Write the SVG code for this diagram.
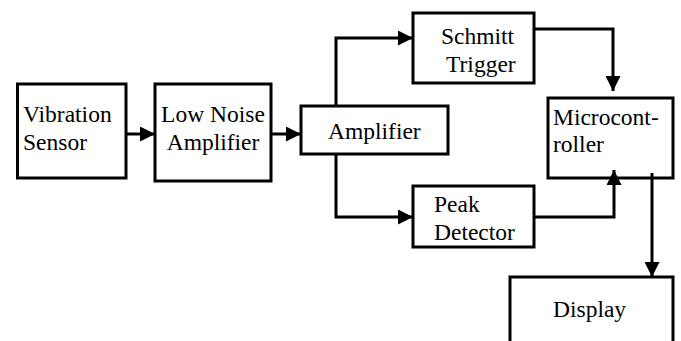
<svg xmlns="http://www.w3.org/2000/svg" width="681" height="341" viewBox="0 0 681 341">
<style>
.box{fill:#fff;stroke:#000;stroke-width:3}
.t{font-family:"Liberation Serif","Times New Roman",Tinos,"Nimbus Roman","DejaVu Serif",serif;font-size:23.5px;fill:#000}
.c{fill:none;stroke:#000;stroke-width:3}
</style>
<defs>
<marker id="ah" viewBox="0 0 15 15" refX="15" refY="7.5" markerWidth="15" markerHeight="15" markerUnits="userSpaceOnUse" orient="auto">
<path d="M0,0 L15,7.5 L0,15 z" fill="#000"/>
</marker>
</defs>
<rect x="0" y="0" width="681" height="341" fill="#fff"/>
<g id="vibration-sensor">
<rect class="box" x="17.5" y="84" width="108.5" height="94"/>
<text class="t" x="23" y="122">Vibration</text>
<text class="t" x="23" y="150">Sensor</text>
</g>
<g id="low-noise-amplifier">
<rect class="box" x="155" y="84" width="116" height="97"/>
<text class="t" x="213" y="122" text-anchor="middle">Low Noise</text>
<text class="t" x="213" y="150" text-anchor="middle">Amplifier</text>
</g>
<g id="amplifier">
<rect class="box" x="301" y="106" width="147" height="48"/>
<text class="t" x="328" y="139">Amplifier</text>
</g>
<g id="schmitt-trigger">
<rect class="box" x="413" y="13" width="121" height="70"/>
<text class="t" x="441" y="44">Schmitt</text>
<text class="t" x="446" y="72">Trigger</text>
</g>
<g id="peak-detector">
<rect class="box" x="413" y="186" width="121" height="61"/>
<text class="t" x="434" y="212">Peak</text>
<text class="t" x="434" y="240">Detector</text>
</g>
<g id="microcontroller">
<rect class="box" x="548" y="98" width="125" height="80"/>
<text class="t" x="553" y="125">Microcont-</text>
<text class="t" x="553" y="152">roller</text>
</g>
<g id="display">
<rect class="box" x="510" y="277" width="163" height="75"/>
<text class="t" x="553" y="317">Display</text>
</g>
<g id="connectors">
<path class="c" d="M126,134 H155" marker-end="url(#ah)"/>
<path class="c" d="M271,134 H301" marker-end="url(#ah)"/>
<path class="c" d="M336,106 V38 H413" marker-end="url(#ah)"/>
<path class="c" d="M336,154 V217 H413" marker-end="url(#ah)"/>
<path class="c" d="M534,29 H613 V91" marker-end="url(#ah)"/>
<path class="c" d="M534,217 H614 V170" marker-end="url(#ah)"/>
<path class="c" d="M652,173 V277" marker-end="url(#ah)"/>
</g>
</svg>
